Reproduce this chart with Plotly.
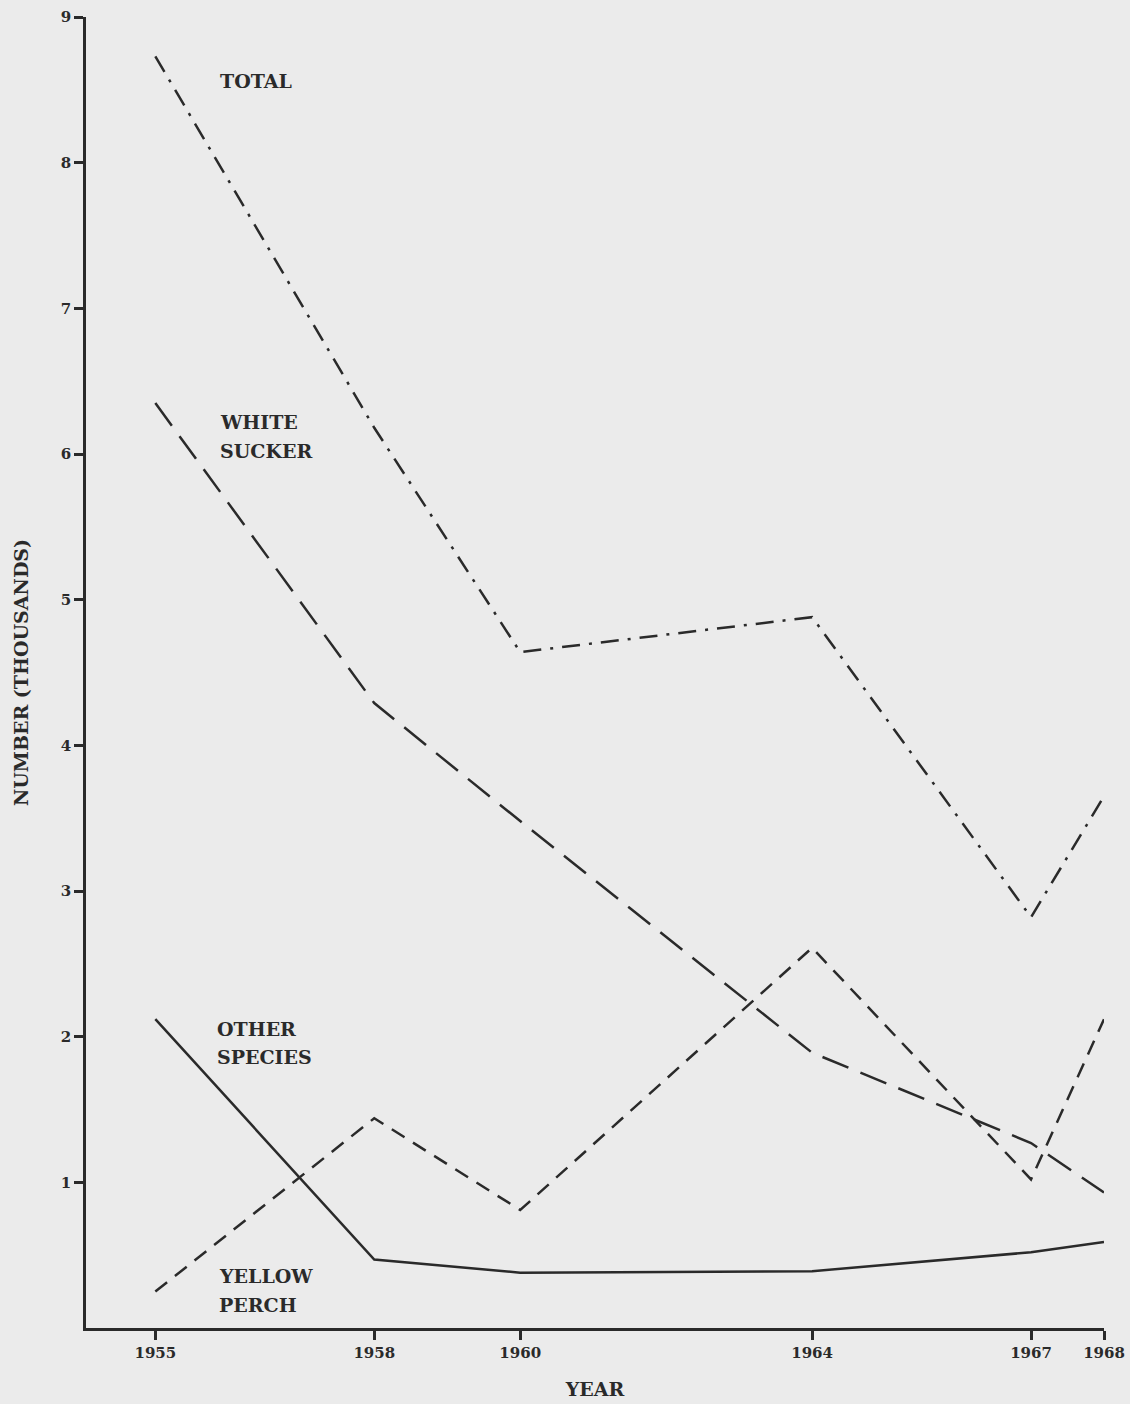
import plotly.graph_objects as go

years = [1955, 1958, 1960, 1964, 1967, 1968]
total = [8.73, 6.18, 4.64, 4.88, 2.82, 3.65]
white_sucker = [6.35, 4.29, 3.48, 1.89, 1.27, 0.93]
other_species = [2.12, 0.47, 0.38, 0.39, 0.52, 0.59]
yellow_perch = [0.25, 1.44, 0.81, 2.61, 1.02, 2.12]

x_ticks = [1955, 1958, 1960, 1964, 1967, 1968]
y_ticks = [1, 2, 3, 4, 5, 6, 7, 8, 9]

INK = "#2a2a2a"
BG = "#ebebeb"
FONT = "DejaVu Serif"

fig = go.Figure()
series = [
    ("TOTAL", total, "18px,9px,3px,9px"),
    ("WHITE SUCKER", white_sucker, "28px,13px"),
    ("YELLOW PERCH", yellow_perch, "15px,10px"),
    ("OTHER SPECIES", other_species, "solid"),
]
for name, vals, dash in series:
    fig.add_trace(go.Scatter(x=years, y=vals, mode="lines", name=name,
                             line=dict(color=INK, width=2.5, dash=dash)))

labels = [
    ("TOTAL", 1955.86, 8.56),
    ("WHITE", 1955.86, 6.22),
    ("SUCKER", 1955.86, 6.02),
    ("OTHER", 1955.82, 2.05),
    ("SPECIES", 1955.82, 1.86),
    ("YELLOW", 1955.85, 0.36),
    ("PERCH", 1955.85, 0.16),
]
for txt, lx, ly in labels:
    fig.add_annotation(x=lx, y=ly, xref="x", yref="y", text=txt, showarrow=False,
                       xanchor="left", yanchor="middle",
                       font=dict(family=FONT, size=19, color=INK, weight="bold"))

fig.update_layout(
    width=1130, height=1404,
    margin=dict(l=86, r=26, t=17, b=76),
    paper_bgcolor=BG, plot_bgcolor=BG,
    showlegend=False,
    font=dict(family=FONT, color=INK),
)
fig.update_xaxes(
    range=[1954.05, 1968], tickvals=x_ticks, ticktext=[str(t) for t in x_ticks],
    automargin=False,
    showgrid=False, zeroline=False, showline=True, linecolor=INK, linewidth=2.5,
    ticks="outside", ticklen=9, tickwidth=2.5, tickcolor=INK,
    tickfont=dict(family=FONT, size=15, color=INK, weight="bold"),
    title=dict(text="YEAR", font=dict(family=FONT, size=19, color=INK, weight="bold"), standoff=22),
)
fig.update_yaxes(
    range=[0, 9], tickvals=y_ticks, ticktext=[str(t) for t in y_ticks],
    automargin=False,
    showgrid=False, zeroline=False, showline=True, linecolor=INK, linewidth=2.5,
    ticks="outside", ticklen=9, tickwidth=2.5, tickcolor=INK,
    tickfont=dict(family=FONT, size=15, color=INK, weight="bold"),
    title=dict(text="NUMBER (THOUSANDS)", font=dict(family=FONT, size=19, color=INK, weight="bold"), standoff=28),
)

post = (
    "document.documentElement.style.margin='0';"
    "document.documentElement.style.padding='0';"
    "document.documentElement.style.overflow='hidden';"
    "document.body.style.margin='0';"
    "document.body.style.padding='0';"
    "document.body.style.overflow='hidden';"
    "document.body.style.background='%s';" % BG
)
fig.write_html("out.html", config={"displayModeBar": False}, post_script=post)
